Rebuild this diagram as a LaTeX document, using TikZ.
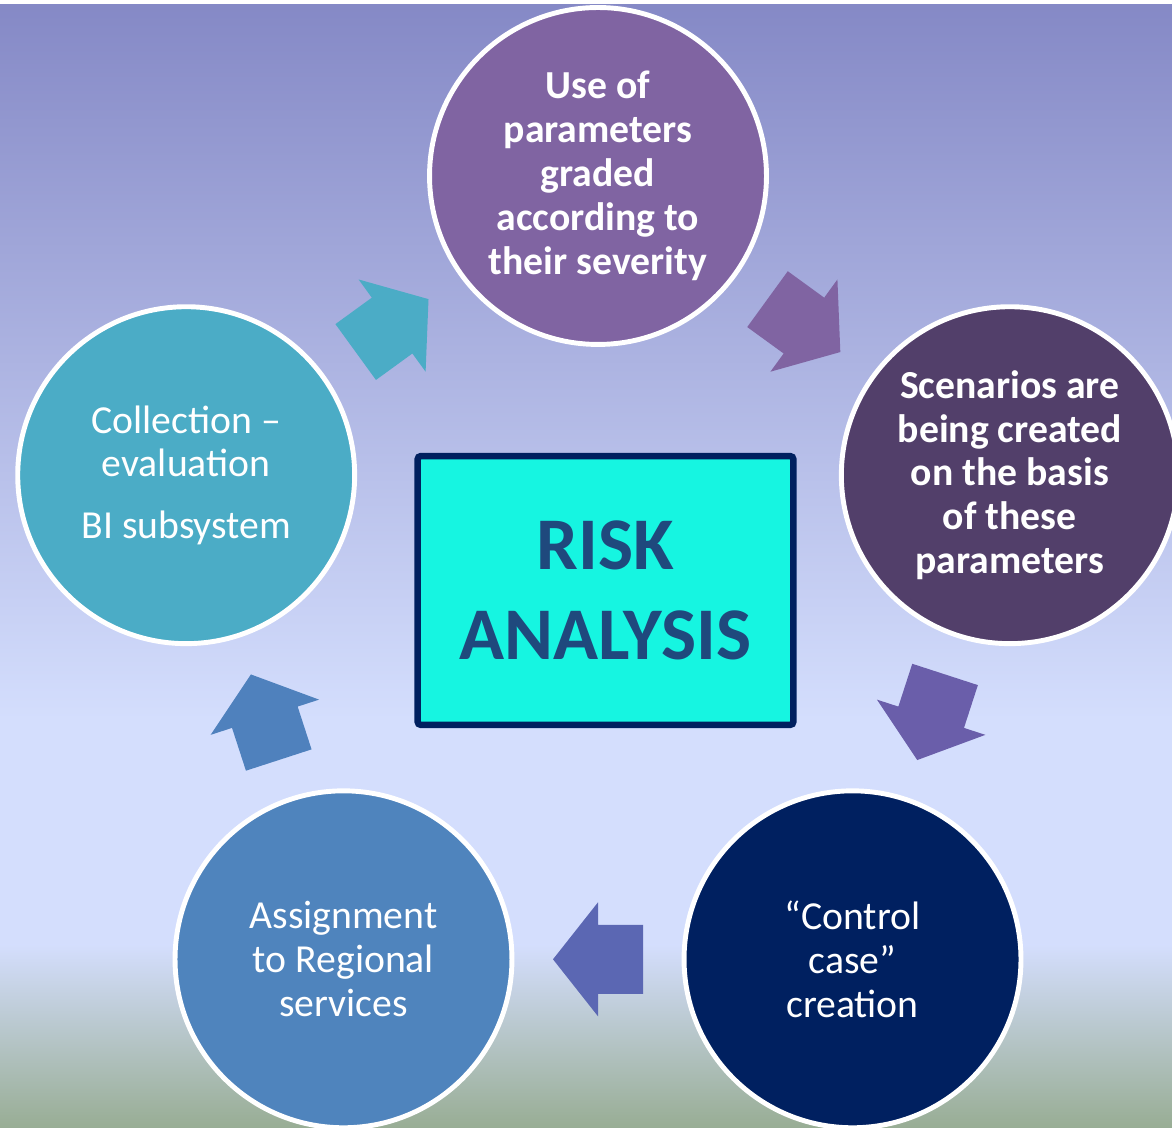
\documentclass[tikz,border=0pt]{standalone}
\usepackage{fontspec}
\setmainfont{Carlito}
\usetikzlibrary{calc}

\definecolor{bgtop}{HTML}{8589C6}
\definecolor{bgmid}{HTML}{D4DEFD}
\definecolor{bgbot}{HTML}{98AD94}
\definecolor{useC}{HTML}{8064A2}
\definecolor{scenC}{HTML}{523F6A}
\definecolor{ctrlC}{HTML}{002060}
\definecolor{assignC}{HTML}{4F84BD}
\definecolor{collC}{HTML}{4BACC6}
\definecolor{flowA}{HTML}{4BACC6}
\definecolor{flowB}{HTML}{8064A2}
\definecolor{flowC}{HTML}{6A5EAA}
\definecolor{flowD}{HTML}{5B67B3}
\definecolor{flowE}{HTML}{4F81BD}
\definecolor{riskfill}{HTML}{16F5E1}
\definecolor{riskline}{HTML}{00205F}
\definecolor{risktext}{HTML}{1F497D}

\begin{document}
\begin{tikzpicture}[x=0.02cm,y=0.02cm,
    stage/.style={circle,draw=white,line width=2.8pt,minimum size=6.74cm,
        inner sep=0pt,text=white,align=center,
        font=\fontsize{22.6}{25}\selectfont},
    stage bold/.style={stage,font=\fontsize{22.6}{25}\selectfont\bfseries}]
    \useasboundingbox (0,0) rectangle (1172,1128);
    \clip (0,0) rectangle (1172,1128);
    % background
    \fill[white] (0,1123) rectangle (1172,1128);
    \shade[top color=bgtop,bottom color=bgmid] (0,408) rectangle (1172,1123);
    \fill[bgmid] (0,183) rectangle (1172,408);
    \shade[top color=bgmid,bottom color=bgbot] (0,0) rectangle (1172,183);

    % the five stages round the hub
    \coordinate (hub) at (598,519);
    \node[stage bold,fill=useC] (use) at ($(hub)+(90:433)$)
        {Use of\\parameters\\graded\\according to\\their severity};
    \node[stage bold,fill=scenC] (scen) at ($(hub)+(18:433)$)
        {Scenarios are\\being created\\on the basis\\of these\\parameters};
    \node[stage,fill=ctrlC] (ctrl) at ($(hub)+(-54:433)$)
        {“Control\\case”\\creation};
    \node[stage,fill=assignC] (assign) at ($(hub)+(-126:433)$)
        {Assignment\\to Regional\\services};
    \node[stage,fill=collC] (coll) at ($(hub)+(162:433)$)
        {Collection –\\evaluation\\[10pt]BI subsystem};

    % block arrows between the stages
    \foreach \from/\to/\ang/\col in {coll/use/36/flowA, use/scen/-36/flowB,
            scen/ctrl/-108/flowC, ctrl/assign/180/flowD, assign/coll/108/flowE}
        \fill[\col,shift={($(\from)!0.5!(\to)$)},rotate=\ang]
            (-45,-34.5) -- (0,-34.5) -- (0,-57) -- (45,0)
            -- (0,57) -- (0,34.5) -- (-45,34.5) -- cycle;

    % centre box
    \node[draw=riskline,fill=riskfill,line width=3.7pt,rounded corners=2pt,
        minimum width=7.52cm,minimum height=5.38cm,text=risktext,align=center,
        font=\fontsize{42.3}{51}\selectfont\bfseries] (risk) at (605.5,537.5)
        {RISK\\ANALYSIS};
\end{tikzpicture}
\end{document}
